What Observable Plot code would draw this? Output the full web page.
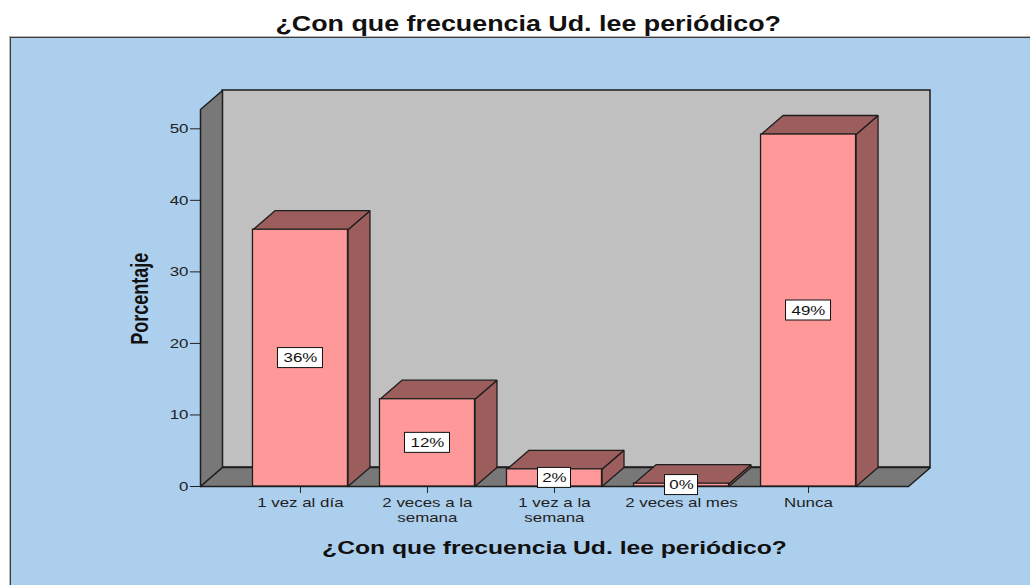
<!DOCTYPE html>
<html>
<head>
<meta charset="utf-8">
<script src="https://cdn.jsdelivr.net/npm/d3@7"></script>
<script src="https://cdn.jsdelivr.net/npm/@observablehq/plot@0.6"></script>
<style>
  html, body { margin: 0; padding: 0; background: #fff; width: 1030px; height: 585px; overflow: hidden; }
  #title { position: absolute; left: 0; top: 0; width: 1030px; height: 37px; text-align: center;
           font: bold 22px "Liberation Sans", Arial, sans-serif; color: #111; }
  #title span { display: inline-block; transform: scaleX(1.22); transform-origin: center;
                margin-left: 26px; line-height: 1; margin-top: 13px; }
  #panel { position: absolute; left: 10px; top: 37px; right: -3px; bottom: -3px; background: #adcfee;
           border: 1px solid #3c3c3c; box-shadow: -1px -1px 0 #b4b4b4; }
  #chart { position: absolute; left: 0; top: 38px; }
</style>
</head>
<body>
<div id="panel"></div>
<div id="title"><span></span></div>
<div id="chart"></div>
<script>
// ---- data ----
const title = "¿Con que frecuencia Ud. lee periódico?";
const yLabel = "Porcentaje";
const categories = ["1 vez al día", "2 veces a la\nsemana", "1 vez a la\nsemana", "2 veces al mes", "Nunca"];
const percents = [35.9, 12.2, 2.4, 0.4, 49.2];
const yTicks = [0, 10, 20, 30, 40, 50];

// ---- layout ----
const W = 1030, H = 547, ML = 200, MR = 122, MT = 90.3, MB = 99;
const PAD = 0.787;
const xmin = -PAD, xmax = categories.length - 1 + PAD;
const yMaxTick = 50, yTop = 52.7;
const pxX = (W - ML - MR) / (xmax - xmin);
const pxY = (H - MT - MB) / yMaxTick;
const ddx = 22 / pxX, ddy = 19 / pxY;     // 3D depth offset
const HW = 47.5 / pxX;                    // half bar width
const K = 1.3;                            // horizontal text stretch

const bars = categories.map((c, i) => ({i, c, v: percents[i], label: Math.round(percents[i]) + "%"}));

function poly(id, pts) { return pts.concat([pts[0]]).map(([x, y]) => ({id, x, y})); }

const wallPolys = [
  ...poly("left", [[xmin, 0], [xmin, yTop], [xmin + ddx, yTop + ddy], [xmin + ddx, ddy]]),
  ...poly("floor", [[xmin, 0], [xmax, 0], [xmax + ddx, ddy], [xmin + ddx, ddy]])
];
const barPolys = bars.flatMap(b => [
  ...poly("side" + b.i, [[b.i + HW, 0], [b.i + HW, b.v], [b.i + HW + ddx, b.v + ddy], [b.i + HW + ddx, ddy]]),
  ...poly("top" + b.i, [[b.i - HW, b.v], [b.i + HW, b.v], [b.i + HW + ddx, b.v + ddy], [b.i - HW + ddx, b.v + ddy]])
]);

const STROKE = "#1e1e1e";

const chart = Plot.plot({
  width: W, height: H,
  marginLeft: ML, marginRight: MR, marginTop: MT, marginBottom: MB,
  style: {background: "transparent", fontFamily: "'Liberation Sans', Arial, sans-serif", fontSize: "13px", color: "#222"},
  x: {type: "linear", domain: [xmin, xmax], axis: null},
  y: {domain: [0, yMaxTick], axis: null},
  marks: [
    // back wall
    Plot.rect([0], {x1: xmin + ddx, x2: xmax + ddx, y1: ddy, y2: yTop + ddy, fill: "#c0c0c0", stroke: STROKE, strokeWidth: 1.5}),
    // left wall and floor
    Plot.line(wallPolys, {x: "x", y: "y", z: "id", fill: "#787878", stroke: STROKE, strokeWidth: 1.5, strokeLinejoin: "miter"}),
    // axes
    Plot.axisY({ticks: yTicks, tickSize: 10, tickPadding: 2, tickFormat: d => String(d), label: null, fontSize: 13}),
    Plot.axisX({ticks: bars.map(b => b.i), tickFormat: i => categories[i], tickSize: 7, tickPadding: 3, label: null, fontSize: 13, lineHeight: 1.15}),
    // bar sides and tops
    Plot.line(barPolys, {x: "x", y: "y", z: "id", fill: "#9c5d5d", stroke: STROKE, strokeWidth: 1.3, strokeLinejoin: "miter"}),
    // bar fronts
    Plot.rect(bars, {x1: d => d.i - HW, x2: d => d.i + HW, y1: 0, y2: "v", fill: "#ff9999", stroke: STROKE, strokeWidth: 1.3}),
    // value label boxes
    Plot.rect(bars, {
      x1: d => d.i - (9 + 12 * d.label.length) / 2 / pxX,
      x2: d => d.i + (9 + 12 * d.label.length) / 2 / pxX,
      y1: d => d.v / 2 - 10 / pxY, y2: d => d.v / 2 + 10 / pxY,
      fill: "white", stroke: "#111", strokeWidth: 1
    }),
    Plot.text(bars, {x: "i", y: d => d.v / 2, text: "label", fontSize: 13, fill: "#111"}),
    // axis titles
    Plot.text([title], {frameAnchor: "bottom", textAnchor: "middle", lineAnchor: "middle", text: d => d, dy: 61, fontSize: 19, fontWeight: "bold", fill: "#111"}),
    Plot.text([yLabel], {frameAnchor: "left", textAnchor: "middle", lineAnchor: "middle", text: d => d, dx: -60, dy: -9, rotate: -90, fontSize: 18, fontWeight: "bold", fill: "#111"})
  ]
});

document.querySelector("#title span").textContent = title;
document.getElementById("chart").append(chart);

// stretch text horizontally, like the reference rendering
chart.querySelectorAll("text").forEach(t => {
  const tr = t.getAttribute("transform") || "";
  if (tr.includes("rotate")) {
    t.setAttribute("transform", tr + ` scale(1,${K})`);
    return;
  }
  const b = t.getBBox();
  const anchor = getComputedStyle(t).textAnchor;
  const cx = anchor === "end" ? b.x + b.width : anchor === "start" ? b.x : b.x + b.width / 2;
  t.setAttribute("transform", `${tr} translate(${cx},0) scale(${K},1) translate(${-cx},0)`);
});
</script>
</body>
</html>
